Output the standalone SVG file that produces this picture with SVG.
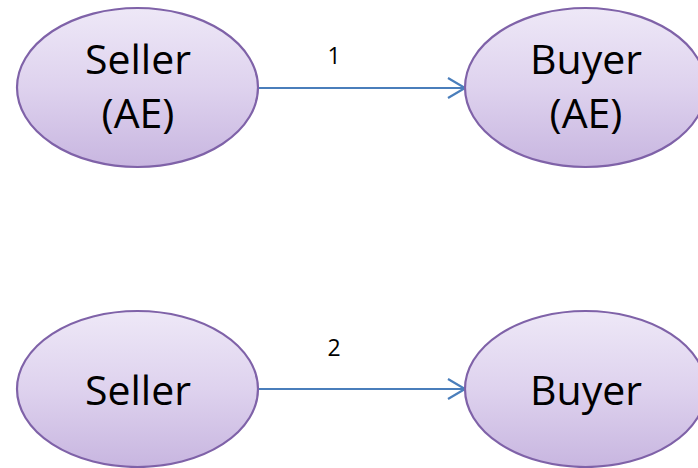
<svg xmlns="http://www.w3.org/2000/svg" width="698" height="468" viewBox="0 0 698 468">
<defs>
<linearGradient id="g" x1="0" y1="0" x2="0" y2="1">
<stop offset="0" stop-color="#EEE8F7"/>
<stop offset="0.5" stop-color="#DED2EE"/>
<stop offset="1" stop-color="#C8B6E0"/>
</linearGradient>
<marker id="arr" markerWidth="22" markerHeight="24" refX="19" refY="12" orient="auto" markerUnits="userSpaceOnUse">
<path d="M2,2 L19,12 L2,22" fill="none" stroke="#4A7EBB" stroke-width="2.2"/>
</marker>
<style>
.node ellipse{fill:url(#g);stroke:#7F62A8;stroke-width:2.2}
.t{font-family:"Open Sans","Liberation Sans",sans-serif;font-size:41px;fill:#000;text-anchor:middle}
.lbl{font-family:"Open Sans","Liberation Sans",sans-serif;font-size:23px;fill:#000;text-anchor:middle}
.edge{stroke:#4A7EBB;stroke-width:2;fill:none;marker-end:url(#arr)}
</style>
</defs>
<g id="connectors">
<line class="edge" x1="259" y1="88" x2="465" y2="88"/>
<line class="edge" x1="259" y1="389" x2="465" y2="389"/>
<text class="lbl" x="334" y="64">1</text>
<text class="lbl" x="334" y="356">2</text>
</g>
<g id="seller-ae" class="node">
<ellipse cx="137.5" cy="87.5" rx="120.5" ry="79.5"/>
<text class="t" x="138" y="74">Seller</text>
<text class="t" x="138" y="128">(AE)</text>
</g>
<g id="buyer-ae" class="node">
<ellipse cx="585.5" cy="87.5" rx="120.5" ry="79.5"/>
<text class="t" x="586" y="74">Buyer</text>
<text class="t" x="586" y="128">(AE)</text>
</g>
<g id="seller" class="node">
<ellipse cx="137.5" cy="389" rx="120.5" ry="78"/>
<text class="t" x="138" y="405">Seller</text>
</g>
<g id="buyer" class="node">
<ellipse cx="585.5" cy="389" rx="120.5" ry="78"/>
<text class="t" x="586" y="405">Buyer</text>
</g>
</svg>
